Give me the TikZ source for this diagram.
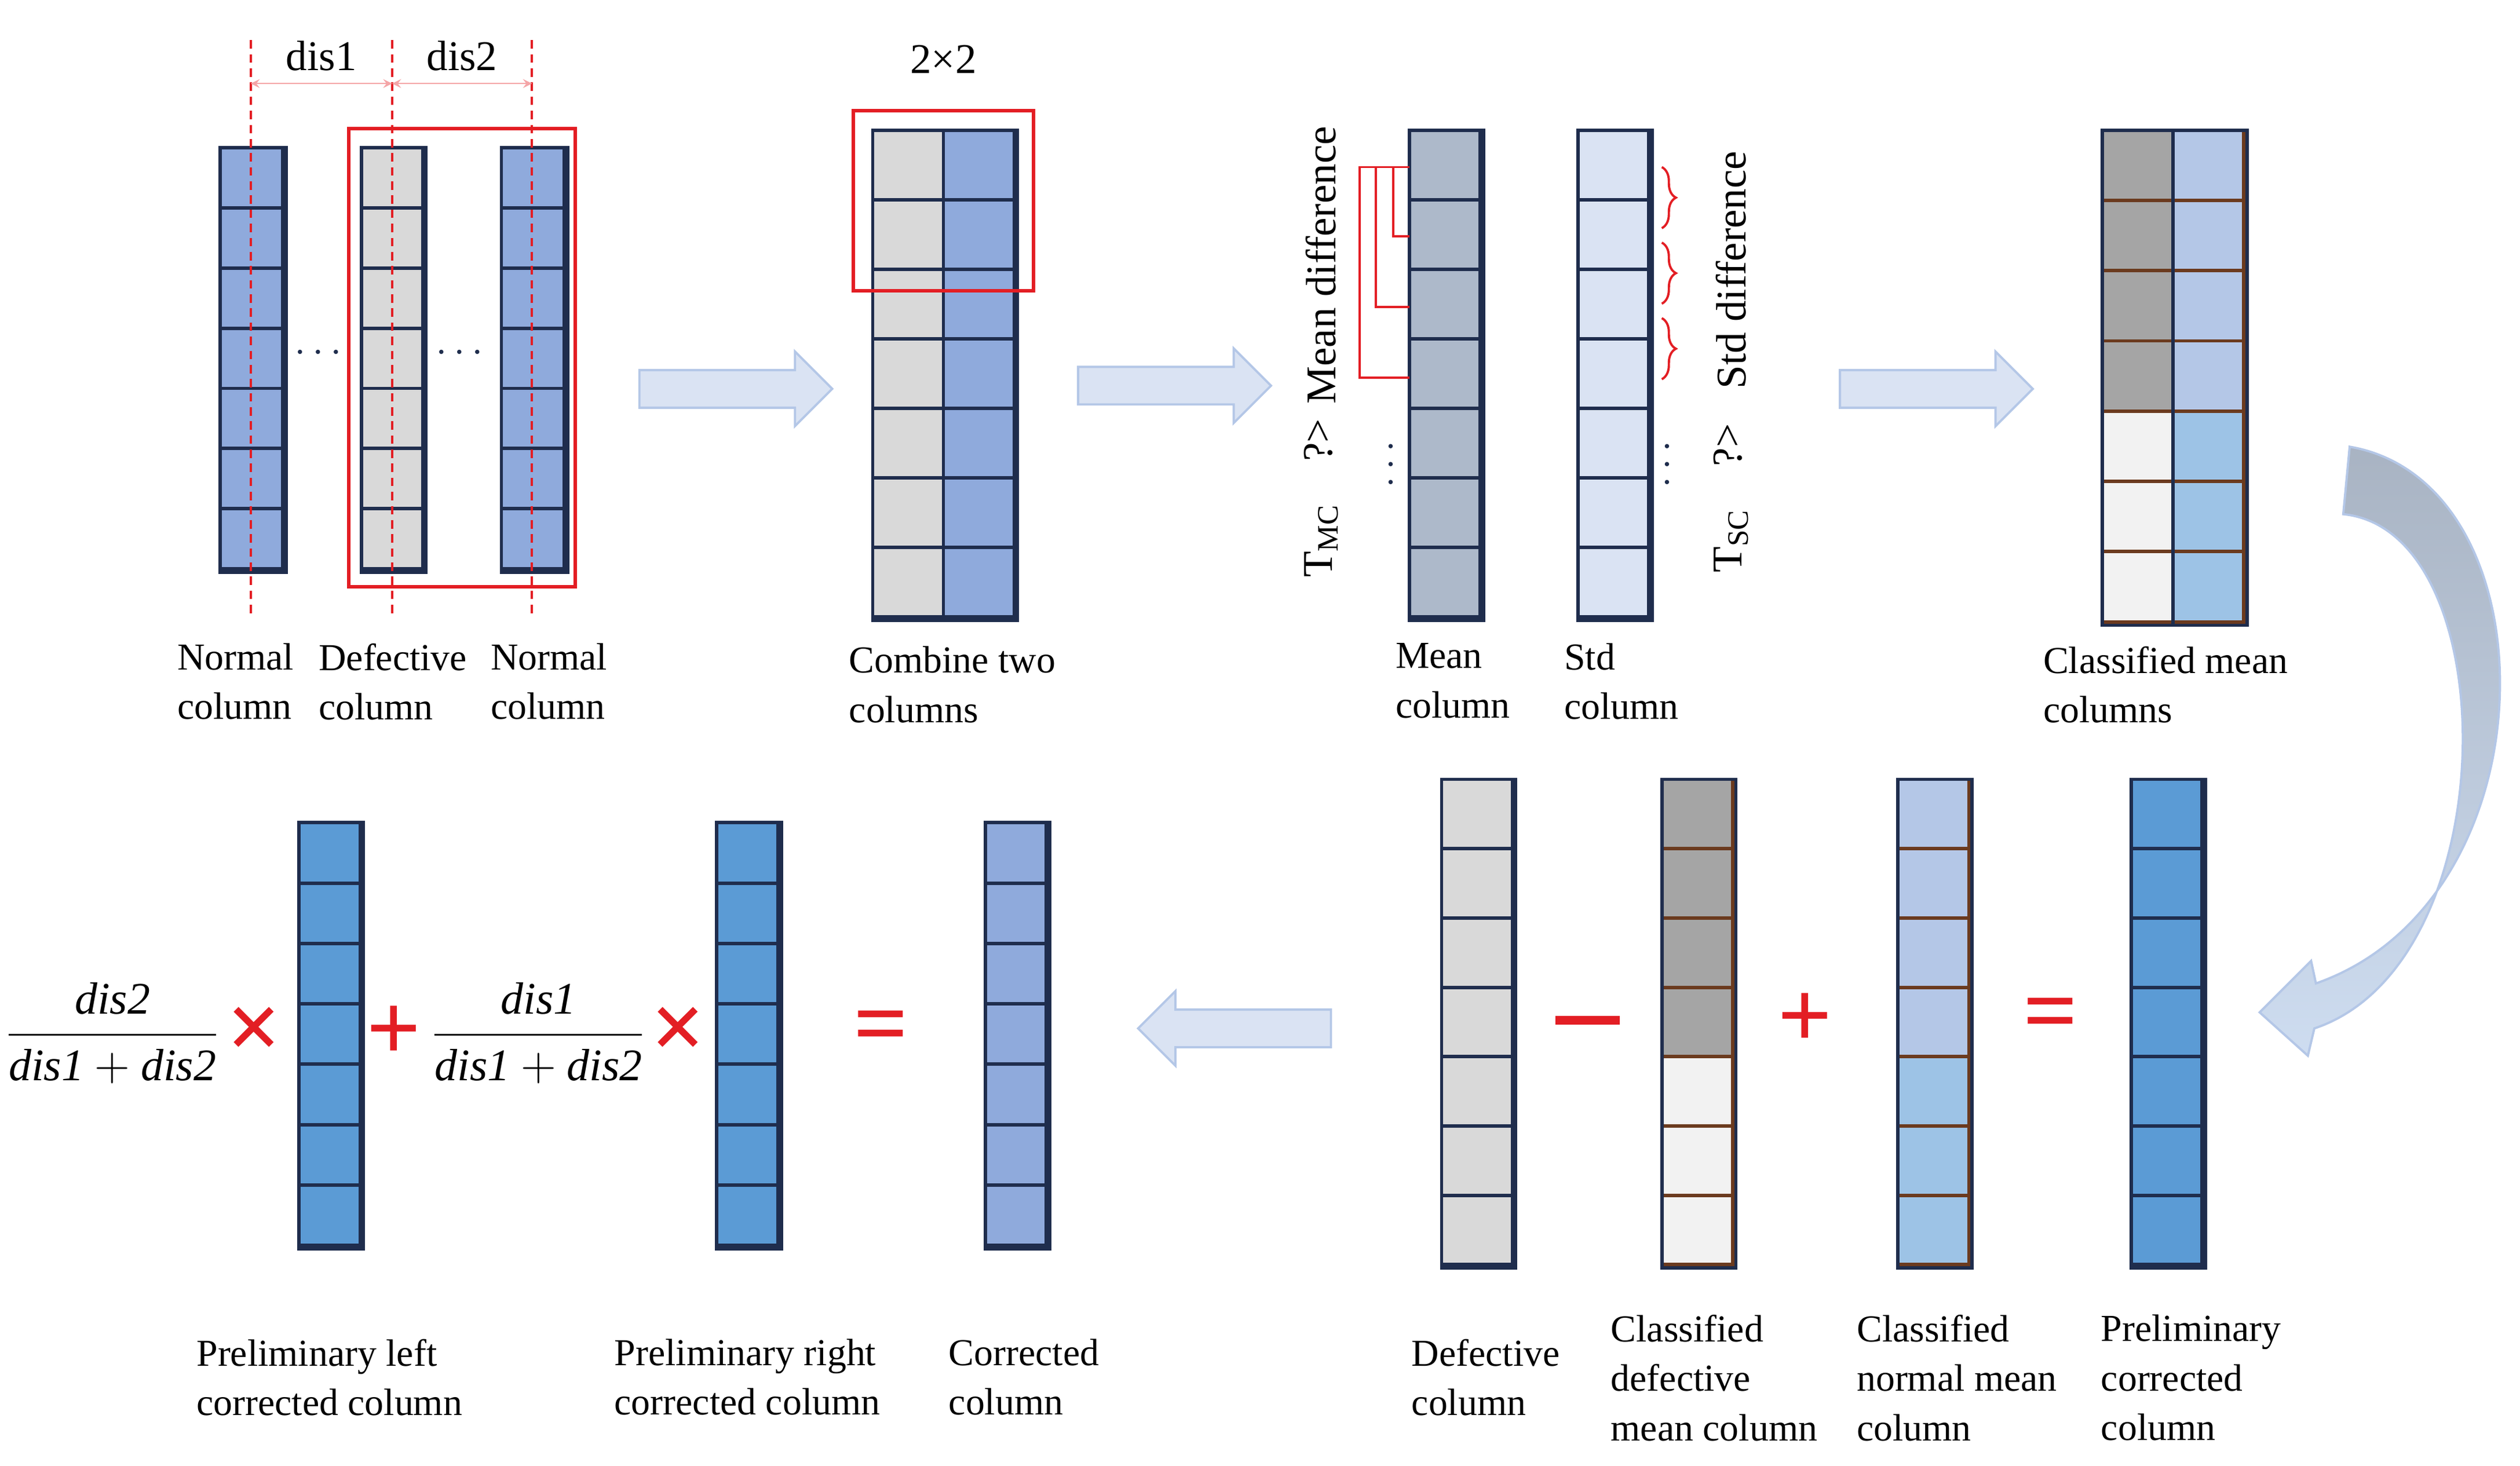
\documentclass[tikz,border=0pt]{standalone}
\usepackage{fontspec}
\setmainfont{Liberation Serif}
\usepackage{amsmath}
\usetikzlibrary{shapes.arrows,calc,decorations.pathreplacing}

\definecolor{cblue}{HTML}{8FAADC}
\definecolor{cgray}{HTML}{D9D9D9}
\definecolor{cmean}{HTML}{ADB9CA}
\definecolor{cstd}{HTML}{DAE3F3}
\definecolor{cdark}{HTML}{A5A5A5}
\definecolor{cwhite}{HTML}{F2F2F2}
\definecolor{clav}{HTML}{B4C7E7}
\definecolor{csky}{HTML}{9DC3E6}
\definecolor{cdeep}{HTML}{5B9BD5}
\definecolor{cnavy}{HTML}{1F2D4D}
\definecolor{cbrown}{HTML}{6B3A1E}
\definecolor{cred}{HTML}{E31E24}

\tikzset{
  col/.style={draw=cnavy,line width=1.2pt,inner sep=0pt},
  lbl/.style={align=left,anchor=north west,font=\fontsize{13.5}{17.5}\selectfont,inner sep=0pt},
  bigarrow/.style={single arrow,fill=cstd,draw=clav,line width=0.8pt,
    minimum height=2.4cm,minimum width=0.9cm,inner sep=0.22cm,
    single arrow head extend=0.23cm,single arrow head indent=0pt},
  op/.style={text=cred,font=\fontsize{34}{34}\selectfont\bfseries,inner sep=0pt},
  redline/.style={cred,line width=0.8pt},
}

% name, left, top, width, height, edge colour, 7 fills
\newcommand\mkcol[7]{%
  \node[col,minimum width=#4*0.02cm,minimum height=#5*0.02cm,anchor=north west] (#1) at (#2,#3) {};
  \foreach \c [count=\i from 0] in {#7}
    \draw[draw=#6,line width=1.2pt,fill=\c] ($(#1.north west)+(0,\i*#5/7)$) rectangle ++(#4,#5/7);
  \draw[cnavy,line width=1.2pt] (#1.north west) rectangle (#1.south east);
}

\begin{document}
\begin{tikzpicture}[x=0.02cm,y=-0.02cm]
\useasboundingbox (0,0) rectangle (1568,912);

% top row: defective column between two normal columns
\mkcol{n1}{137}{92}{39}{262}{cnavy}{cblue,cblue,cblue,cblue,cblue,cblue,cblue}
\mkcol{d1}{225}{92}{38}{262}{cnavy}{cgray,cgray,cgray,cgray,cgray,cgray,cgray}
\mkcol{n2}{312}{92}{39}{262}{cnavy}{cblue,cblue,cblue,cblue,cblue,cblue,cblue}
\draw[redline,line width=1.2pt] (217,80) rectangle (358,365);
\foreach \x in {156,244,331}
  \draw[redline,densely dashed] (\x,25) -- (\x,385);
\coordinate (p1) at (156,52);
\coordinate (p2) at (244,52);
\coordinate (p3) at (331,52);
\draw[cred!40,<->,>=stealth] (p1) -- (p2) node[midway,above=1pt,black,font=\fontsize{15}{15}\selectfont] {dis1};
\draw[cred!40,<->,>=stealth] (p2) -- (p3) node[midway,above=1pt,black,font=\fontsize{15}{15}\selectfont] {dis2};
\node[text=cnavy,font=\Large\bfseries] (dt1) at (200,220) {$\cdots$};
\node[text=cnavy,font=\Large\bfseries] (dt2) at (288,220) {$\cdots$};
\node[lbl] (ln1) at (110,400) {Normal\\column};
\node[lbl] (ld1) at (198,400) {Defective\\column};
\node[lbl] (ln2) at (305,400) {Normal\\column};

\node[bigarrow] (a1) at (452,242) {};

% combined columns
\mkcol{cg}{543}{81}{44}{303}{cnavy}{cgray,cgray,cgray,cgray,cgray,cgray,cgray}
\mkcol{cb}{587}{81}{44}{303}{cnavy}{cblue,cblue,cblue,cblue,cblue,cblue,cblue}
\draw[redline,line width=1.2pt] (531,69) rectangle (643,181);
\node[font=\fontsize{15}{15}\selectfont] (win) at (587,37) {2×2};
\node[lbl] (lc) at (528,402) {Combine two\\columns};

\node[bigarrow] (a2) at (725,240) {};

% mean and std columns
\mkcol{mc}{877}{81}{44}{303}{cnavy}{cmean,cmean,cmean,cmean,cmean,cmean,cmean}
\mkcol{sc}{982}{81}{44}{303}{cnavy}{cstd,cstd,cstd,cstd,cstd,cstd,cstd}
\foreach \x/\y in {846/235,856/191,867/147}
  \draw[redline] (877,104) -- (\x,104) -- (\x,\y) -- (877,\y);
\foreach \a/\b in {104/142,151/189,198/236}
  \draw[redline,decorate,decoration={brace,amplitude=5pt}] (1034,\a) -- (1034,\b);
\node[text=cnavy,font=\Large\bfseries,rotate=90] (vd1) at (866,287) {$\cdots$};
\node[text=cnavy,font=\Large\bfseries,rotate=90] (vd2) at (1038,287) {$\cdots$};
\node[rotate=90,font=\fontsize{15}{15}\selectfont] (md) at (822,165) {Mean difference};
\node[rotate=90,font=\fontsize{15}{15}\selectfont] (tm) at (822,310) {T$_{\text{MC}}$\quad ?>};
\node[rotate=90,font=\fontsize{15}{15}\selectfont] (sd) at (1077,168) {Std difference};
\node[rotate=90,font=\fontsize{15}{15}\selectfont] (ts) at (1077,310) {T$_{\text{SC}}$\quad ?>};
\node[lbl] (lm) at (868,400) {Mean\\column};
\node[lbl] (ls) at (973,400) {Std\\column};

\node[bigarrow] (a3) at (1199,242) {};

% classified mean columns
\mkcol{kl}{1308}{81}{44}{306}{cbrown}{cdark,cdark,cdark,cdark,cwhite,cwhite,cwhite}
\mkcol{kr}{1352}{81}{44}{306}{cbrown}{clav,clav,clav,clav,csky,csky,csky}
\node[lbl] (lk) at (1271,402) {Classified mean\\columns};

% curved arrow
\shade[top color=cmean!90!gray,bottom color=cstd!80!csky,draw=clav,line width=0.8pt]
  (1462,278) .. controls (1590,300) and (1590,560) .. (1441,612)
  -- (1438,598) -- (1406,630) -- (1436,657) -- (1440,640)
  .. controls (1560,600) and (1560,330) .. (1458,320) -- cycle;

% bottom right: correction
\mkcol{dc}{897}{485}{44}{302}{cnavy}{cgray,cgray,cgray,cgray,cgray,cgray,cgray}
\mkcol{kd}{1034}{485}{44}{302}{cbrown}{cdark,cdark,cdark,cdark,cwhite,cwhite,cwhite}
\mkcol{kn}{1181}{485}{44}{302}{cbrown}{clav,clav,clav,clav,csky,csky,csky}
\mkcol{pc}{1326}{485}{44}{302}{cnavy}{cdeep,cdeep,cdeep,cdeep,cdeep,cdeep,cdeep}
\node[op] (mi) at (988,635) {\rule{40\dimexpr0.02cm\relax}{3pt}};
\node[op] (pl1) at (1123,635) {+};
\node[op] (eq1) at (1276,635) {=};
\node[lbl] (ldc) at (878,833) {Defective\\column};
\node[lbl] (lkd) at (1002,818) {Classified\\defective\\mean column};
\node[lbl] (lkn) at (1155,818) {Classified\\normal mean\\column};
\node[lbl] (lpc) at (1307,818) {Preliminary\\corrected\\column};

\node[bigarrow,shape border rotate=180] (a4) at (774,640) {};

% bottom left: weighted sum
\node[font=\fontsize{16}{16}\selectfont] (f1) at (70,643) {$\dfrac{\mathit{dis2}}{\mathit{dis1}+\mathit{dis2}}$};
\node[op] (x1) at (158,643) {×};
\mkcol{pl}{186}{512}{38}{263}{cnavy}{cdeep,cdeep,cdeep,cdeep,cdeep,cdeep,cdeep}
\node[op] (pl2) at (245,643) {+};
\node[font=\fontsize{16}{16}\selectfont] (f2) at (335,643) {$\dfrac{\mathit{dis1}}{\mathit{dis1}+\mathit{dis2}}$};
\node[op] (x2) at (422,643) {×};
\mkcol{pr}{446}{512}{38}{263}{cnavy}{cdeep,cdeep,cdeep,cdeep,cdeep,cdeep,cdeep}
\node[op] (eq2) at (548,643) {=};
\mkcol{cc}{613}{512}{38}{263}{cnavy}{cblue,cblue,cblue,cblue,cblue,cblue,cblue}
\node[lbl] (lpl) at (122,833) {Preliminary left\\corrected column};
\node[lbl] (lpr) at (382,833) {Preliminary right\\corrected column};
\node[lbl] (lcc) at (590,833) {Corrected\\column};
\end{tikzpicture}
\end{document}
